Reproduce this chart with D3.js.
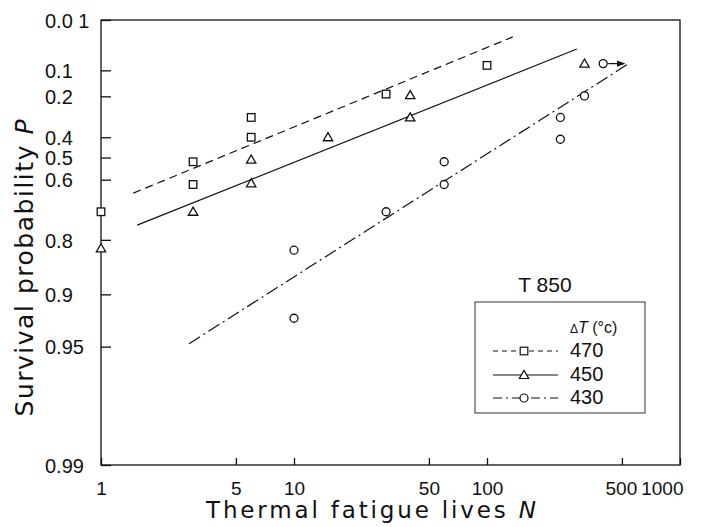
<!DOCTYPE html>
<html>
<head>
<meta charset="utf-8">
<script src="https://cdn.jsdelivr.net/npm/d3@7"></script>
<style>
  body { margin: 0; background: #fff; }
  text { font-family: "Liberation Sans", Arial, sans-serif; fill: #111; }
</style>
</head>
<body>
<svg id="chart" width="709" height="527"></svg>
<script>
// Tick values and labels
const xTicks = [1, 5, 10, 50, 100, 500, 1000];
const yTickValues = [0.01, 0.1, 0.2, 0.4, 0.5, 0.6, 0.8, 0.9, 0.95, 0.99];
const yTickLabels = ["0.0 1", "0.1", "0.2", "0.4", "0.5", "0.6", "0.8", "0.9", "0.95", "0.99"];

// Data points (N, survival probability P) for each ΔT
const n470 = [1, 3, 3, 6, 6, 30, 100];
const p470 = [0.72, 0.52, 0.62, 0.30, 0.40, 0.19, 0.085];
const n450 = [1, 3, 6, 6, 15, 40, 40, 320];
const p450 = [0.82, 0.72, 0.51, 0.615, 0.40, 0.195, 0.30, 0.08];
const n430 = [10, 10, 30, 60, 60, 240, 240, 320, 400];
const p430 = [0.824, 0.927, 0.72, 0.62, 0.52, 0.30, 0.41, 0.198, 0.08];

// Fitted line end points
const fitN470 = [1.47, 136], fitP470 = [0.654, 0.026];
const fitN450 = [1.54, 292], fitP450 = [0.761, 0.0456];
const fitN430 = [2.86, 550], fitP430 = [0.948, 0.078];

// run-out point (arrow) of the 430 series
const runoutN = 400, runoutP = 0.08;

const legendLabels = ["470", "450", "430"];

const svg = d3.select("#chart");

// Weibull probability transform
const weib = p => Math.log(-Math.log(p));

const x = d3.scaleLog().domain([1, 1000]).range([101, 680]);
const y = d3.scaleLinear().domain([weib(0.01), weib(0.99)]).range([20, 465]);

const series = [
  {label: "470", n: n470, p: p470, fn: fitN470, fp: fitP470, shape: "square", dash: "8,5", legDash: "5,4"},
  {label: "450", n: n450, p: p450, fn: fitN450, fp: fitP450, shape: "triangle", dash: null, legDash: null},
  {label: "430", n: n430, p: p430, fn: fitN430, fp: fitP430, shape: "circle", dash: "13,4,2,4", legDash: "9,4,2,4"}
];

// Frame
svg.append("rect")
  .attr("x", 101).attr("y", 20)
  .attr("width", 680 - 101).attr("height", 465 - 20)
  .attr("fill", "none").attr("stroke", "#111").attr("stroke-width", 1.3);

// Y axis (ticks inward, labels left aligned)
const yAxis = svg.append("g")
  .attr("transform", "translate(101,0)")
  .call(d3.axisLeft(y)
    .tickValues(yTickValues.map(weib))
    .tickSize(-10)
    .tickFormat((d, i) => yTickLabels[i]));
yAxis.select(".domain").remove();
yAxis.selectAll("line").attr("stroke", "#111").attr("stroke-width", 1.3);
yAxis.selectAll("text")
  .attr("x", -56)
  .attr("text-anchor", "start")
  .attr("dy", "0.36em")
  .style("font-size", "20px")
  .style("font-family", "'Liberation Sans', Arial, sans-serif")
  .attr("fill", "#111");

// X axis
const xAxis = svg.append("g")
  .attr("transform", "translate(0,465)")
  .call(d3.axisBottom(x)
    .tickValues(xTicks)
    .tickSize(-7)
    .tickFormat(d3.format("d")));
xAxis.select(".domain").remove();
xAxis.selectAll("line").attr("stroke", "#111").attr("stroke-width", 1.3);
xAxis.selectAll("text")
  .attr("y", 30)
  .attr("dy", 0)
  .style("font-size", "19px")
  .style("font-family", "'Liberation Sans', Arial, sans-serif")
  .attr("fill", "#111");
xAxis.selectAll(".tick").filter(d => d === 500).select("text").attr("x", -1);
xAxis.selectAll(".tick").filter(d => d === 1000).select("text")
  .attr("text-anchor", "end").attr("x", 3);

// Axis titles
const xt = svg.append("text")
  .attr("x", 371).attr("y", 518)
  .attr("text-anchor", "middle")
  .attr("textLength", 330)
  .attr("lengthAdjust", "spacing")
  .style("font-family", "'DejaVu Sans', sans-serif")
  .style("font-size", "23px");
xt.append("tspan").text("Thermal  fatigue lives  ");
xt.append("tspan").style("font-style", "italic").text("N");

const yt = svg.append("text")
  .attr("transform", "translate(33,268) rotate(-90)")
  .attr("text-anchor", "middle")
  .attr("textLength", 297)
  .attr("lengthAdjust", "spacing")
  .style("font-family", "'DejaVu Sans', sans-serif")
  .style("font-size", "25px");
yt.append("tspan").text("Survival  probability   ");
yt.append("tspan").style("font-style", "italic").text("P");

// Fitted lines
const line = d3.line().x(d => x(d[0])).y(d => y(weib(d[1])));
series.forEach(s => {
  svg.append("path")
    .datum(s.fn.map((n, i) => [n, s.fp[i]]))
    .attr("d", line)
    .attr("fill", "none")
    .attr("stroke", "#111")
    .attr("stroke-width", 1.2)
    .attr("stroke-dasharray", s.dash);
});

// Markers
function marker(g, shape, cx, cy) {
  if (shape === "square") {
    g.append("rect").attr("x", cx - 3.8).attr("y", cy - 3.8)
      .attr("width", 7.6).attr("height", 7.6);
  } else if (shape === "triangle") {
    g.append("path").attr("d", d3.symbol(d3.symbolTriangle, 38)())
      .attr("transform", `translate(${cx},${cy + 0.8})`);
  } else {
    g.append("circle").attr("cx", cx).attr("cy", cy).attr("r", 4);
  }
}

const pts = svg.append("g")
  .attr("fill", "#fff").attr("stroke", "#111").attr("stroke-width", 1.3);
series.forEach(s => {
  s.n.forEach((n, i) => marker(pts, s.shape, x(n), y(weib(s.p[i]))));
});

// Run-out arrow
svg.append("defs").append("marker")
  .attr("id", "arrow")
  .attr("viewBox", "0 0 10 10")
  .attr("refX", 9).attr("refY", 5)
  .attr("markerWidth", 7).attr("markerHeight", 7)
  .attr("orient", "auto")
  .append("path").attr("d", "M0,1 L10,5 L0,9 Z").attr("fill", "#111");
svg.append("line")
  .attr("x1", x(runoutN) + 5).attr("x2", x(runoutN) + 21)
  .attr("y1", y(weib(runoutP))).attr("y2", y(weib(runoutP)))
  .attr("stroke", "#111").attr("stroke-width", 1.2)
  .attr("marker-end", "url(#arrow)");

// Legend
svg.append("text")
  .attr("x", 545).attr("y", 292)
  .attr("text-anchor", "middle")
  .style("font-size", "21px")
  .text("T 850");

svg.append("rect")
  .attr("x", 475).attr("y", 302)
  .attr("width", 170).attr("height", 111)
  .attr("fill", "none").attr("stroke", "#333").attr("stroke-width", 1);

const dt = svg.append("text")
  .attr("x", 570).attr("y", 333)
  .style("font-size", "16px");
dt.append("tspan").style("font-size", "12px").text("Δ");
dt.append("tspan").style("font-style", "italic").text("T");
dt.append("tspan").text(" (°c)");

const rowY = [351, 375, 398];
const leg = svg.append("g");
series.forEach((s, i) => {
  leg.append("line")
    .attr("x1", 493).attr("x2", 558)
    .attr("y1", rowY[i]).attr("y2", rowY[i])
    .attr("stroke", "#111").attr("stroke-width", 1.2)
    .attr("stroke-dasharray", s.legDash);
  const mg = leg.append("g").attr("fill", "#fff").attr("stroke", "#111").attr("stroke-width", 1.2);
  marker(mg, s.shape, 524, rowY[i]);
  leg.append("text")
    .attr("x", 570).attr("y", rowY[i] + 6)
    .style("font-size", "20px")
    .text(legendLabels[i]);
});
</script>
</body>
</html>
